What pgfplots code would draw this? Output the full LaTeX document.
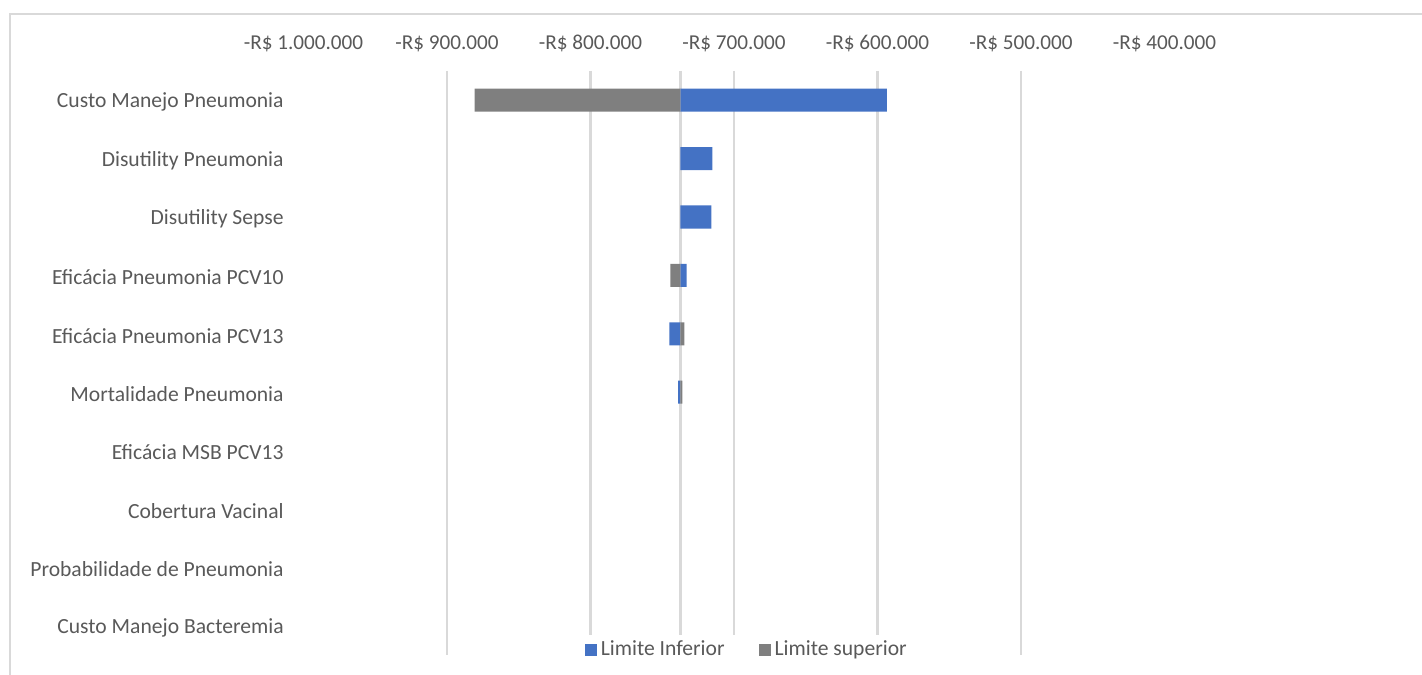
\documentclass[border=0pt]{standalone}
\usepackage{fontspec}
\setmainfont{Carlito}
\usepackage{pgfplots}
\usepackage{pgfplotstable}
\pgfplotsset{compat=1.18}
\definecolor{barblue}{HTML}{4472C4}
\definecolor{bargray}{HTML}{7F7F7F}
\definecolor{gridc}{HTML}{D9D9D9}
\definecolor{txt}{HTML}{595959}
\def\basevalue{737300}

% categories 7-10 have bars of zero length (value = base)
\pgfplotstableread{
y inferior
1  -593400
2  -715100
3  -715800
4  -733000
5  -745100
6  -738900
}\inferior
\pgfplotstableread{
y superior
1  -880700
4  -744400
5  -734600
6  -736000
}\superior

\begin{document}
\begin{tikzpicture}
\useasboundingbox (-151.75pt,-9.5pt) rectangle (559.25pt,327.5pt);
\draw[gridc, line width=0.6pt] (-146.75pt,-20pt) -- (-146.75pt,320.5pt) -- (570pt,320.5pt);
\begin{axis}[
  at={(0pt,0pt)}, anchor=south west,
  scale only axis, width=430.5pt, height=292pt,
  xbar, bar width=11.5pt,
  x coord trafo/.code={%
    \begingroup
    \pgfkeys{/pgf/fpu=true,/pgf/fpu/output format=fixed}%
    \pgfmathparse{#1+\basevalue}%
    \global\let\mytrafores\pgfmathresult
    \endgroup
    \let\pgfmathresult\mytrafores},
  xmin=-1000000, xmax=-400000,
  ymin=0.5, ymax=10.5, y dir=reverse,
  ytick={1,2,3,4,5,6,7,8,9,10},
  yticklabels={Custo Manejo Pneumonia, Disutility Pneumonia, Disutility Sepse,
    Eficácia Pneumonia PCV10, Eficácia Pneumonia PCV13, Mortalidade Pneumonia,
    Eficácia MSB PCV13, Cobertura Vacinal, Probabilidade de Pneumonia,
    Custo Manejo Bacteremia},
  xtick={-1000000,-900000,-800000,-700000,-600000,-500000,-400000},
  xticklabels={-R\$ 1.000.000,-R\$ 900.000,-R\$ 800.000,-R\$ 700.000,-R\$ 600.000,-R\$ 500.000,-R\$ 400.000},
  xticklabel pos=upper,
  extra x ticks={-900000,-800000,-737300,-700000,-600000,-500000},
  extra x tick labels={},
  extra x tick style={grid=major, major grid style={gridc, line width=1.1pt}},
  axis line style={draw=none},
  major tick length=0pt,
  tick label style={font=\fontsize{10.8}{12}\selectfont, text=txt},
  xticklabel style={anchor=base, yshift=10.85pt, font=\fontsize{10.6}{12}\selectfont},
  yticklabel style={anchor=east, inner sep=0pt, xshift=-9.75pt, yshift=-1pt},
  clip=false,
  legend style={at={(0.516,0.009)}, anchor=center, legend columns=2, draw=none,
    fill=white, font=\fontsize{10.8}{12}\selectfont, text=txt, inner sep=1pt,
    /tikz/every even column/.append style={column sep=15pt}},
]
\draw[gridc, line width=1.1pt] (axis cs:-737300,0.5) -- (axis cs:-737300,10.5);
\addplot[xbar, bar shift=0pt, fill=barblue, draw=none,
  legend image code/.code={\fill[barblue] (0pt,-3pt) rectangle (6pt,3pt);}]
  table[x=inferior, y=y] {\inferior};
\addlegendentry{Limite Inferior}
\addplot[xbar, bar shift=0pt, fill=bargray, draw=none,
  legend image code/.code={\fill[bargray] (0pt,-3pt) rectangle (6pt,3pt);}]
  table[x=superior, y=y] {\superior};
\addlegendentry{Limite superior}
\end{axis}
\end{tikzpicture}
\end{document}
